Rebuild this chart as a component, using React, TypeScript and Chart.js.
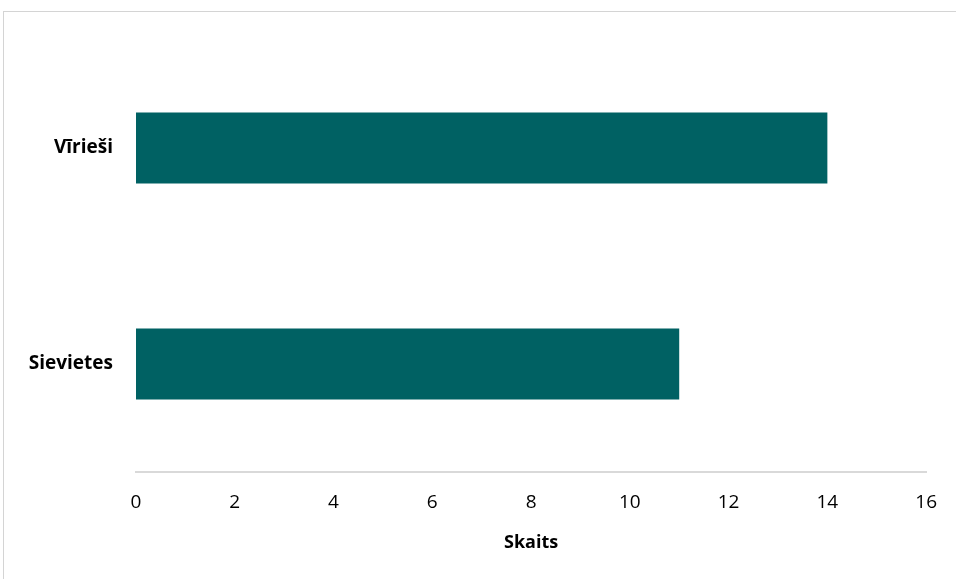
import React, { useEffect, useRef } from "react";
import { Chart, registerables } from "chart.js";

Chart.register(...registerables);

const categories = ["Vīrieši", "Sievietes"];
const values = [14, 11];
const xTitle = "Skaits";
const xMin = 0;
const xMax = 16;
const xStep = 2;

export default function App() {
  const ref = useRef<HTMLCanvasElement | null>(null);

  useEffect(() => {
    if (!ref.current) return;
    const font = "'Open Sans', 'Liberation Sans', sans-serif";
    const chart = new Chart(ref.current, {
      type: "bar",
      data: {
        labels: categories,
        datasets: [
          {
            data: values,
            backgroundColor: "#006163",
            borderWidth: 0,
            barPercentage: 71 / 216,
            categoryPercentage: 1,
          },
        ],
      },
      options: {
        indexAxis: "y",
        animation: false,
        responsive: false,
        maintainAspectRatio: false,
        layout: { padding: { top: 40, right: 28, bottom: 0, left: 0 } },
        plugins: { legend: { display: false }, tooltip: { enabled: false } },
        scales: {
          x: {
            min: xMin,
            max: xMax,
            ticks: {
              stepSize: xStep,
              color: "#000000",
              font: { family: font, size: 19 },
              padding: 19,
            },
            grid: { display: false, drawTicks: false },
            border: { display: true, color: "#d9d9d9", width: 2 },
            title: {
              display: true,
              text: xTitle,
              color: "#000000",
              font: { family: font, size: 18, weight: "bold" },
              padding: { top: 4, bottom: 25 },
            },
            afterFit: (s: any) => {
              s.height = 107;
            },
          },
          y: {
            ticks: {
              color: "#000000",
              font: { family: font, size: 19, weight: "bold" },
              padding: 23,
            },
            grid: { display: false, drawTicks: false },
            border: { display: false },
            afterFit: (s: any) => {
              s.width = 136;
            },
          },
        },
      },
    });
    return () => chart.destroy();
  }, []);

  return (
    <div style={{ position: "fixed", left: 0, top: 0, width: 956, height: 579, overflow: "hidden", background: "#fff" }}>
      <div
        style={{
          position: "absolute",
          left: 3,
          top: 11,
          width: 1000,
          height: 700,
          border: "1px solid #d4d4d4",
          boxSizing: "border-box",
        }}
      />
      <canvas ref={ref} width={956} height={579} style={{ position: "absolute", left: 0, top: 0 }} />
    </div>
  );
}
